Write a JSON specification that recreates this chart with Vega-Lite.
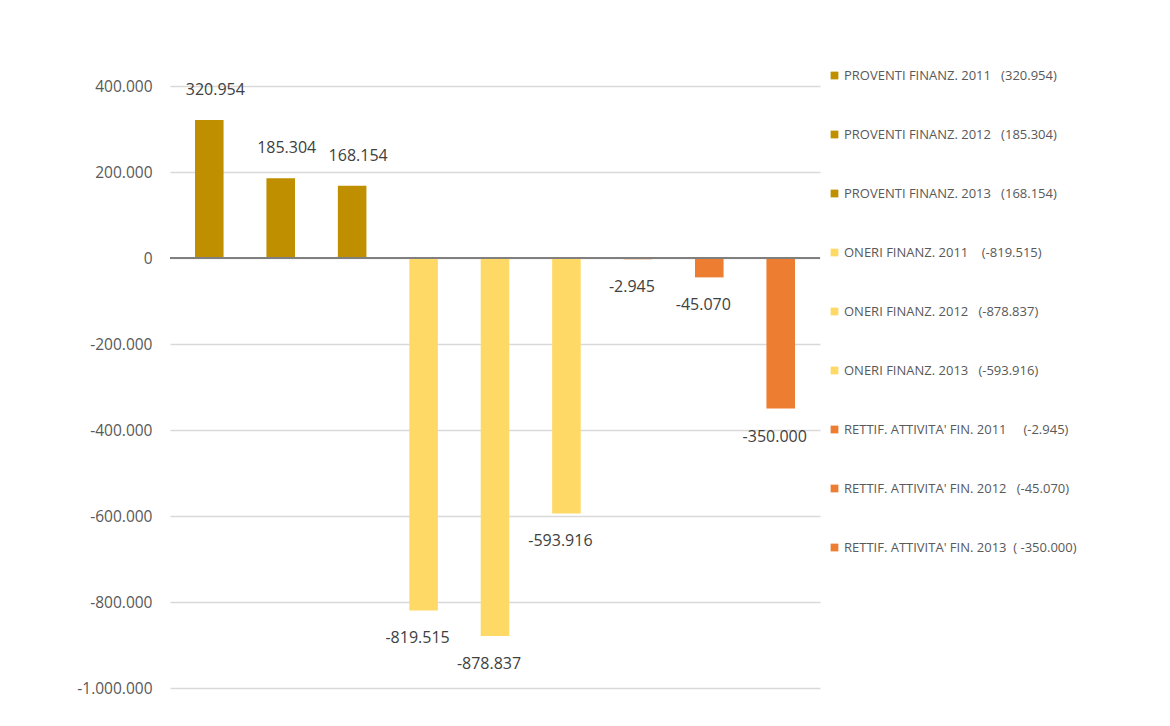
{
  "$schema": "https://vega.github.io/schema/vega-lite/v6.json",
  "autosize": {"type": "none"},
  "width": 650,
  "height": 602,
  "padding": {"left": 170, "top": 86, "right": 350, "bottom": 38},
  "background": "#ffffff",
  "config": {
    "locale": {"number": {"decimal": ",", "thousands": ".", "grouping": [3], "currency": ["€", ""], "minus": "-"}},
    "view": {"stroke": null},
    "font": "Open Sans"
  },
  "data": {
    "values": [
      {"serie": "PROVENTI FINANZ. 2011\u00a0\u00a0 (320.954)", "valore": 320954},
      {"serie": "PROVENTI FINANZ. 2012\u00a0\u00a0 (185.304)", "valore": 185304},
      {"serie": "PROVENTI FINANZ. 2013\u00a0\u00a0 (168.154)", "valore": 168154},
      {"serie": "ONERI FINANZ. 2011\u00a0\u00a0\u00a0 (-819.515)", "valore": -819515},
      {"serie": "ONERI FINANZ. 2012\u00a0\u00a0 (-878.837)", "valore": -878837},
      {"serie": "ONERI FINANZ. 2013\u00a0\u00a0 (-593.916)", "valore": -593916},
      {"serie": "RETTIF. ATTIVITA' FIN. 2011\u00a0\u00a0\u00a0\u00a0 (-2.945)", "valore": -2945},
      {"serie": "RETTIF. ATTIVITA' FIN. 2012\u00a0\u00a0 (-45.070)", "valore": -45070},
      {"serie": "RETTIF. ATTIVITA' FIN. 2013\u00a0 ( -350.000)", "valore": -350000}
    ]
  },
  "encoding": {
    "x": {
      "field": "serie", "type": "nominal", "sort": null,
      "scale": {"paddingInner": 0.6, "paddingOuter": 0.35},
      "axis": null
    },
    "y": {
      "field": "valore", "type": "quantitative",
      "scale": {"domain": [-1000000, 400000], "nice": false, "zero": true},
      "axis": {
        "values": [-1000000, -800000, -600000, -400000, -200000, 0, 200000, 400000],
        "format": ",.0f",
        "title": null,
        "domain": false,
        "ticks": false,
        "labelPadding": 18,
        "labelFontSize": 15.5,
        "labelColor": "#595959",
        "gridColor": "#d9d9d9",
        "gridWidth": 1.5
      }
    }
  },
  "layer": [
    {
      "mark": {"type": "bar", "stroke": null},
      "encoding": {
        "color": {
          "field": "serie", "type": "nominal", "sort": null,
          "scale": {
            "range": ["#BF8F00", "#BF8F00", "#BF8F00", "#FFD966", "#FFD966", "#FFD966", "#ED7D31", "#ED7D31", "#ED7D31"]
          },
          "legend": {
            "title": null,
            "orient": "none",
            "legendX": 658,
            "legendY": -17,
            "symbolType": "square",
            "symbolSize": 60,
            "symbolStrokeWidth": 0,
            "labelFontSize": 13,
            "labelColor": "#595959",
            "rowPadding": 45,
            "labelLimit": 400,
            "labelOffset": 3
          }
        }
      }
    },
    {
      "mark": {"type": "rule", "color": "#7f7f7f", "strokeWidth": 1.5},
      "encoding": {"y": {"datum": 0}, "x": {"value": 0}, "x2": {"value": 650}}
    },
    {
      "transform": [{"filter": "datum.valore >= 0"}],
      "mark": {"type": "text", "baseline": "bottom", "dy": -22, "dx": 6, "fontSize": 16, "color": "#404040"},
      "encoding": {"text": {"field": "valore", "type": "quantitative", "format": ",.0f"}}
    },
    {
      "transform": [{"filter": "datum.valore < 0"}],
      "mark": {"type": "text", "baseline": "top", "dy": 20, "dx": -6, "fontSize": 16, "color": "#404040"},
      "encoding": {"text": {"field": "valore", "type": "quantitative", "format": ",.0f"}}
    }
  ]
}
